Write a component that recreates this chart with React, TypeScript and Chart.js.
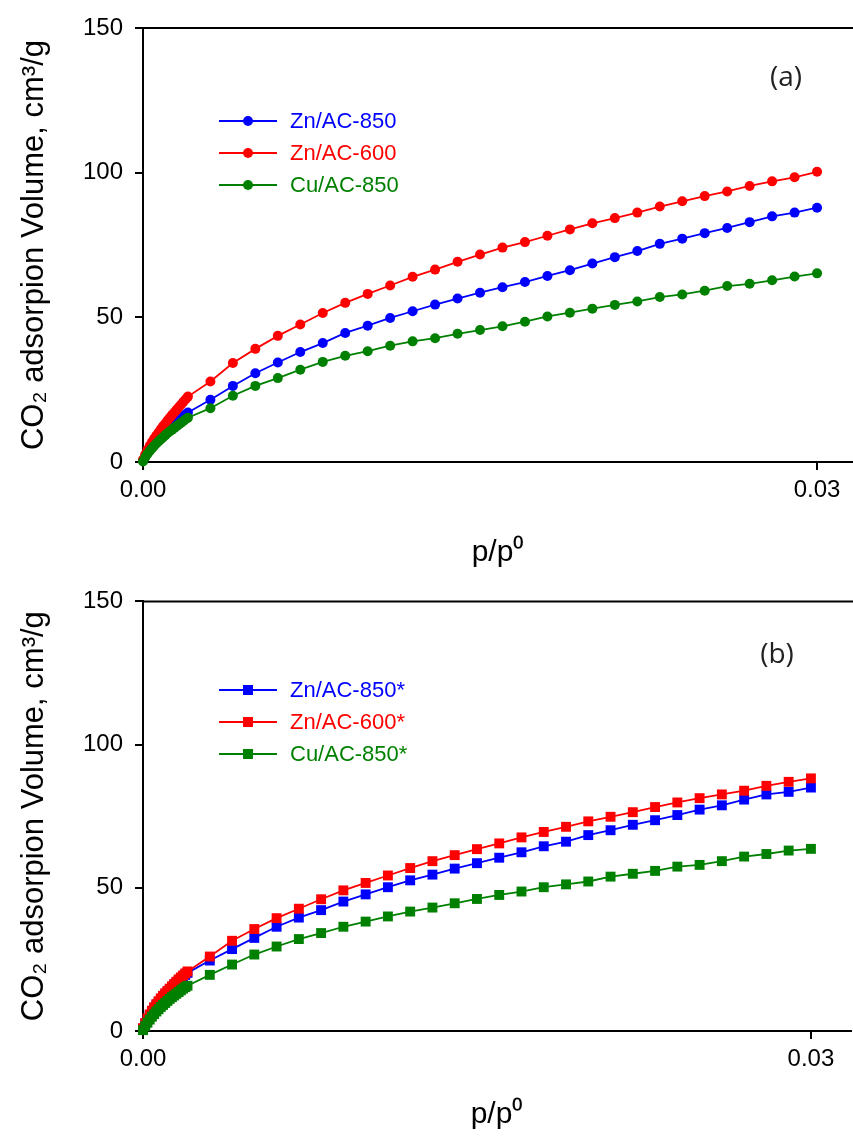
import React, { useEffect, useRef } from "react";
import { Chart, registerables } from "chart.js";

Chart.register(...registerables);

// Relative pressure p/p0 (shared by all series)
const P_OVER_P0 = [
  0, 0.0001, 0.0002, 0.0003, 0.0004, 0.0005, 0.0006, 0.0007, 0.0008, 0.0009, 0.001,
  0.0011, 0.0012, 0.0013, 0.0014, 0.0015, 0.0016, 0.0017, 0.0018, 0.0019, 0.002,
  0.003, 0.004, 0.005, 0.006, 0.007, 0.008, 0.009, 0.01, 0.011, 0.012, 0.013, 0.014,
  0.015, 0.016, 0.017, 0.018, 0.019, 0.02, 0.021, 0.022, 0.023, 0.024, 0.025, 0.026,
  0.027, 0.028, 0.029, 0.03,
];

// Panel (a)
const A_LABELS = ["Zn/AC-850", "Zn/AC-600", "Cu/AC-850"];
const A_ZN850 = [
  0.5, 2.0, 3.3, 4.4, 5.4, 6.3, 7.2, 8.0, 8.8, 9.6, 10.3, 11.0, 11.7, 12.4, 13.1, 13.8, 14.5, 15.2, 15.9, 16.5, 17.1,
  21.5, 26.3, 30.7, 34.4, 38.0, 41.1, 44.6, 47.1, 49.8, 52.1, 54.4, 56.5, 58.5, 60.4, 62.2, 64.3, 66.3, 68.6, 70.8,
  72.9, 75.4, 77.2, 79.1, 80.9, 82.9, 84.9, 86.2, 87.9,
];
const A_ZN600 = [
  0.8, 2.6, 4.2, 5.6, 6.9, 8.1, 9.2, 10.3, 11.4, 12.4, 13.4, 14.4, 15.4, 16.3, 17.2, 18.1, 19.0, 19.9, 20.8, 21.7, 22.6,
  27.8, 34.2, 39.1, 43.6, 47.5, 51.5, 55.0, 58.1, 61.0, 64.0, 66.5, 69.2, 71.7, 74.1, 76.0, 78.2, 80.4, 82.5, 84.3,
  86.2, 88.3, 90.1, 91.9, 93.5, 95.4, 97.0, 98.4, 100.3,
];
const A_CU850 = [
  0.2, 1.6, 2.8, 3.8, 4.7, 5.6, 6.4, 7.2, 7.9, 8.6, 9.3, 10.0, 10.6, 11.2, 11.8, 12.4, 13.0, 13.6, 14.2, 14.8, 15.3,
  18.6, 22.9, 26.3, 29.0, 31.9, 34.6, 36.7, 38.3, 40.2, 41.7, 42.8, 44.3, 45.6, 46.9, 48.5, 50.3, 51.6, 53.0, 54.3,
  55.5, 57.0, 57.9, 59.2, 60.8, 61.6, 62.8, 64.1, 65.2,
];

// Panel (b)
const B_LABELS = ["Zn/AC-850*", "Zn/AC-600*", "Cu/AC-850*"];
const B_ZN850 = [
  0.8, 2.5, 4.0, 5.4, 6.7, 7.9, 9.0, 10.0, 11.0, 11.9, 12.8, 13.6, 14.4, 15.2, 16.0, 16.8, 17.5, 18.2, 18.9, 19.6, 20.3,
  24.6, 28.6, 32.5, 36.4, 39.6, 42.2, 45.2, 47.7, 50.2, 52.6, 54.6, 56.7, 58.6, 60.5, 62.4, 64.5, 66.1, 68.4, 70.1,
  72.0, 73.6, 75.4, 77.3, 78.8, 80.8, 82.6, 83.5, 85.0,
];
const B_ZN600 = [
  1.0, 2.8, 4.4, 5.8, 7.1, 8.3, 9.4, 10.4, 11.4, 12.3, 13.2, 14.0, 14.8, 15.6, 16.4, 17.2, 18.0, 18.7, 19.4, 20.1, 20.8,
  26.0, 31.5, 35.6, 39.4, 42.7, 46.0, 49.1, 51.7, 54.3, 56.9, 59.3, 61.4, 63.5, 65.5, 67.6, 69.5, 71.3, 73.2, 74.8,
  76.4, 78.2, 79.8, 81.3, 82.6, 83.9, 85.6, 87.0, 88.2,
];
const B_CU850 = [
  0.3, 1.7, 2.9, 4.0, 5.0, 5.9, 6.8, 7.6, 8.4, 9.1, 9.8, 10.5, 11.2, 11.8, 12.4, 13.0, 13.6, 14.2, 14.8, 15.3, 15.8,
  19.6, 23.2, 26.7, 29.5, 32.1, 34.2, 36.4, 38.2, 40.0, 41.7, 43.1, 44.6, 46.1, 47.5, 48.7, 50.2, 51.2, 52.2, 53.9,
  54.9, 55.9, 57.4, 58.0, 59.3, 60.9, 61.8, 63.0, 63.6,
];

const X_TICKS = [0, 0.03];
const Y_TICKS = [0, 50, 100, 150];
const COLORS = ["#0000ff", "#ff0000", "#008000"];
const Y_TITLE = "CO\u2082 adsorpion Volume, cm\u00b3/g";
const X_TITLE = "p/p\u2070";
const FONT = "'Liberation Sans', Arial, sans-serif";

const toPoints = (ys: number[]) => ys.map((y, i) => ({ x: P_OVER_P0[i], y }));

const inlineLegend = {
  id: "inlineLegend",
  afterDatasetsDraw(chart: any, _args: any, opts: any) {
    const ctx = chart.ctx;
    const { chartArea } = chart;
    ctx.save();
    // top frame line
    ctx.strokeStyle = "#000";
    ctx.lineWidth = 2;
    ctx.beginPath();
    ctx.moveTo(chartArea.left, chartArea.top);
    ctx.lineTo(chart.width, chartArea.top);
    ctx.stroke();

    const order: number[] = opts.order;
    order.forEach((dsIndex: number, i: number) => {
      const ds = chart.data.datasets[dsIndex];
      const y = opts.y + i * opts.dy;
      ctx.strokeStyle = ds.borderColor;
      ctx.fillStyle = ds.borderColor;
      ctx.lineWidth = 1.8;
      ctx.beginPath();
      ctx.moveTo(opts.x1, y);
      ctx.lineTo(opts.x2, y);
      ctx.stroke();
      const cx = (opts.x1 + opts.x2) / 2;
      ctx.beginPath();
      if (ds.pointStyle === "rect") {
        ctx.rect(cx - 5, y - 5, 10, 10);
      } else {
        ctx.arc(cx, y, 5, 0, Math.PI * 2);
      }
      ctx.fill();
      ctx.font = `22px ${FONT}`;
      ctx.textBaseline = "middle";
      ctx.textAlign = "left";
      ctx.fillText(ds.label, opts.textX, y + 1);
    });
    ctx.fillStyle = "#222";
    ctx.font = "28px 'Open Sans', sans-serif";
    ctx.textAlign = "center";
    ctx.textBaseline = "middle";
    ctx.fillText(opts.panel, opts.panelX, opts.panelY);
    ctx.restore();
  },
};

function makeConfig(p: any) {
  const mk = (label: string, data: number[], color: string) => ({
    label,
    data: toPoints(data),
    borderColor: color,
    backgroundColor: color,
    pointBackgroundColor: color,
    pointBorderColor: color,
    pointStyle: p.pointStyle,
    pointRadius: p.pointRadius,
    pointBorderWidth: 0,
    borderWidth: 1.8,
    showLine: true,
    tension: 0,
    clip: false,
  });
  // dataset order: green drawn on top, then red, then blue
  const datasets = [
    mk(p.labels[2], p.series[2], COLORS[2]),
    mk(p.labels[1], p.series[1], COLORS[1]),
    mk(p.labels[0], p.series[0], COLORS[0]),
  ];
  return {
    type: "scatter",
    data: { datasets },
    plugins: [inlineLegend],
    options: {
      responsive: false,
      animation: false,
      devicePixelRatio: 1,
      layout: { padding: { top: p.top, right: 0, bottom: 0, left: 0 } },
      plugins: {
        legend: { display: false },
        tooltip: { enabled: false },
        inlineLegend: {
          order: [2, 1, 0],
          x1: 219,
          x2: 277,
          textX: 290,
          y: p.legendY,
          dy: 32,
          panel: p.panel,
          panelX: p.panelX,
          panelY: p.panelY,
        },
      },
      scales: {
        x: {
          type: "linear",
          min: 0,
          max: p.xMax,
          afterBuildTicks: (scale: any) => {
            scale.ticks = X_TICKS.map((v) => ({ value: v }));
          },
          afterFit: (scale: any) => {
            scale.height = p.xAxisHeight;
          },
          ticks: {
            color: "#000",
            font: { family: FONT, size: 24 },
            padding: 6,
            maxRotation: 0,
            callback: (v: any) => Number(v).toFixed(2),
          },
          grid: {
            display: true,
            drawOnChartArea: false,
            drawTicks: true,
            tickLength: 8,
            color: "#000",
            lineWidth: 2,
          },
          border: { display: true, color: "#000", width: 2 },
          title: {
            display: true,
            text: X_TITLE,
            color: "#000",
            font: { family: FONT, size: 30 },
            padding: { top: 0, bottom: p.xTitlePad },
          },
        },
        y: {
          type: "linear",
          min: 0,
          max: 150,
          afterBuildTicks: (scale: any) => {
            scale.ticks = Y_TICKS.map((v) => ({ value: v }));
          },
          afterFit: (scale: any) => {
            scale.width = 143;
          },
          ticks: {
            color: "#000",
            font: { family: FONT, size: 24 },
            padding: 12,
          },
          grid: {
            display: true,
            drawOnChartArea: false,
            drawTicks: true,
            tickLength: 8,
            color: "#000",
            lineWidth: 2,
          },
          border: { display: true, color: "#000", width: 2 },
          title: {
            display: true,
            text: Y_TITLE,
            color: "#000",
            font: { family: FONT, size: 31 },
            padding: { top: 16, bottom: 0 },
          },
        },
      },
    },
  };
}

// canvas is a bit wider than the visible box so the plot frame runs to the page edge
const EXTRA_W = 5;

function Panel(props: { cfg: any; width: number; height: number }) {
  const ref = useRef<HTMLCanvasElement | null>(null);
  useEffect(() => {
    if (!ref.current) return;
    const chart = new Chart(ref.current, makeConfig(props.cfg) as any);
    return () => chart.destroy();
  }, []);
  return (
    <div style={{ width: props.width, height: props.height, overflow: "hidden" }}>
      <canvas
        ref={ref}
        width={props.width + EXTRA_W}
        height={props.height}
        style={{ display: "block", width: props.width + EXTRA_W, height: props.height }}
      />
    </div>
  );
}

export default function App() {
  const top = {
    labels: A_LABELS,
    series: [A_ZN850, A_ZN600, A_CU850],
    pointStyle: "circle",
    pointRadius: 5,
    top: 28,
    xAxisHeight: 575 - 462,
    xMax: 0.0316,
    xTitlePad: 4,
    legendY: 121,
    panel: "(a)",
    panelX: 786,
    panelY: 78,
  };
  const bottom = {
    labels: B_LABELS,
    series: [B_ZN850, B_ZN600, B_CU850],
    pointStyle: "rect",
    pointRadius: 7,
    top: 25,
    xAxisHeight: 567 - 456,
    xMax: 0.0318,
    xTitlePad: 9,
    legendY: 115,
    panel: "(b)",
    panelX: 777,
    panelY: 80,
  };
  return (
    <div style={{ position: "absolute", left: 0, top: 0, width: 853, height: 1142, background: "#fff", overflow: "hidden" }}>
      <Panel cfg={top} width={853} height={575} />
      <Panel cfg={bottom} width={853} height={567} />
    </div>
  );
}
